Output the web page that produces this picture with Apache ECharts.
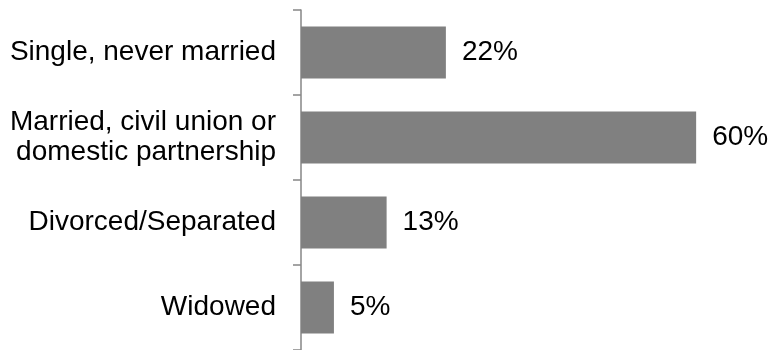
<!DOCTYPE html>
<html><head><meta charset="utf-8">
<script src="https://cdn.jsdelivr.net/npm/echarts@6/dist/echarts.min.js"></script>
<style>html,body{margin:0;padding:0;background:#fff}#c{width:773px;height:350px}</style>
</head><body><div id="c"></div>
<script>
const categories = ["Single, never married", "Married, civil union or\ndomestic partnership", "Divorced/Separated", "Widowed"];
const values = [22, 60, 13, 5];
const chart = echarts.init(document.getElementById('c'), null, {renderer: 'canvas'});
chart.setOption({
  animation: false,
  grid: {left: 301, top: 10, width: 461, height: 340, containLabel: false},
  xAxis: {type: 'value', min: 0, max: 70, show: false},
  yAxis: {
    type: 'category', data: categories, inverse: true,
    axisLine: {show: true, lineStyle: {color: '#868686', width: 1.5}},
    axisTick: {show: true, length: 8, lineStyle: {color: '#868686', width: 1.5}},
    axisLabel: {margin: 25, color: '#000', fontSize: 28, fontFamily: 'Liberation Sans, Arial', lineHeight: 30, align: 'right'}
  },
  series: [{
    type: 'bar', data: values, barWidth: 52,
    itemStyle: {color: '#808080'},
    label: {show: true, position: 'right', distance: 16, formatter: '{c}%', color: '#000', fontSize: 28, fontFamily: 'Liberation Sans, Arial'}
  }]
});
</script></body></html>
